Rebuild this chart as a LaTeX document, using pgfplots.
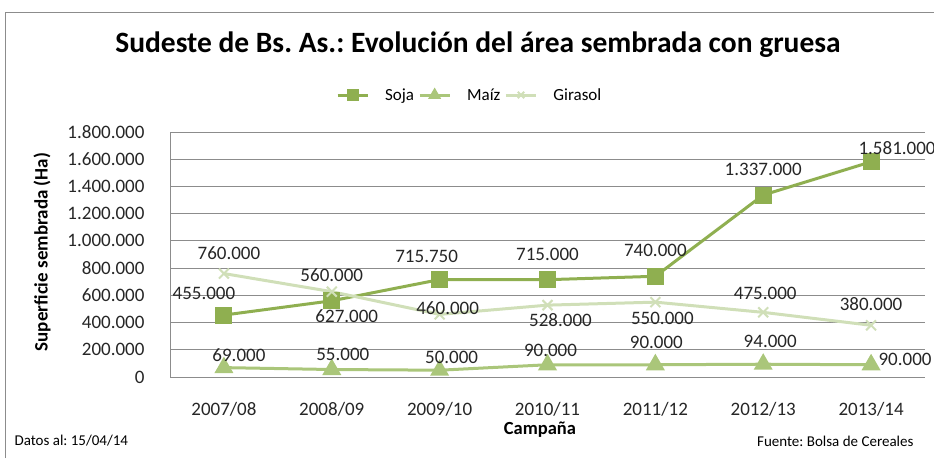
\documentclass[border=0pt]{standalone}
\usepackage{fontspec}
\setmainfont{Carlito}
\usepackage{pgfplots}
\usepackage{pgfplotstable}
\pgfplotsset{compat=1.18}
\frenchspacing
\definecolor{soja}{RGB}{143,175,80}
\definecolor{maiz}{RGB}{170,198,122}
\definecolor{girasol}{RGB}{208,223,184}
\definecolor{gridc}{RGB}{140,140,140}
\pgfplotstableread{
x y dx dy
0 455000 -20 22
1 560000 0 26
2 715750 -13 23
3 715000 0 25
4 740000 0 26
5 1337000 0 26
6 1581000 26 14
}\soja
\pgfplotstableread{
x y dx dy
0 69000 15 12
1 55000 11 15
2 50000 12 13
3 90000 3 14
4 90000 1 22
5 94000 7 23
6 90000 34 5
}\maiz
\pgfplotstableread{
x y dx dy
0 760000 5 20
1 627000 15 -24
2 460000 8 6
3 528000 13 -15
4 550000 7 -16
5 475000 2 19
6 380000 0 21
}\girasol
\begin{document}
\begin{tikzpicture}
\useasboundingbox (0pt,0pt) rectangle (934pt,-458pt);
\draw[gridc, line width=1pt] (5pt,-458pt) -- (5pt,-12pt) -- (934pt,-12pt);
\begin{axis}[
  at={(170pt,-377pt)}, anchor=south west,
  scale only axis, width=755pt, height=245pt,
  xmin=-0.5, xmax=6.5, ymin=0, ymax=1800000,
  xtick={0,...,6},
  xticklabels={2007/08,2008/09,2009/10,2010/11,2011/12,2012/13,2013/14},
  ytick={0,200000,...,1800000},
  scaled y ticks=false,
  /pgf/number format/.cd, fixed, precision=0, 1000 sep={.}, assume math mode=true,
  /pgfplots/.cd,
  ymajorgrids, major grid style={gridc, line width=0.8pt},
  axis line style={gridc, line width=0.8pt},
  axis x line*=bottom, axis y line*=left,
  major tick length=0pt,
  tick label style={font=\fontsize{19}{21}\selectfont, text=black!85},
  yticklabel style={xshift=-22pt},
  xticklabel style={yshift=-22pt},
  xlabel={Campaña}, ylabel={Superficie sembrada (Ha)},
  every axis x label/.style={at={(axis description cs:0.49,-0.216)}, anchor=center, font=\fontsize{18.5}{20}\selectfont\bfseries},
  every axis y label/.style={at={(axis description cs:-0.1695,0.51)}, anchor=center, rotate=90, font=\fontsize{19}{20}\selectfont\bfseries},
  legend style={at={(axis description cs:0.397,1.151)}, anchor=center, draw=none,
    font=\fontsize{17}{19}\selectfont, legend columns=3,
    /tikz/every even column/.style={column sep=2pt},
    /tikz/every odd column/.style={column sep=14pt}},
  legend image code/.code={\draw[mark repeat=2,mark phase=2,#1, mark size=4.5pt] plot coordinates {(0pt,0pt) (15pt,0pt) (30pt,0pt)};},
  visualization depends on={\thisrow{dx} \as \dx},
  visualization depends on={\thisrow{dy} \as \dy},
  nodes near coords,
  every node near coord/.style={anchor=center, xshift=\dx pt, yshift=\dy pt, font=\fontsize{19}{21}\selectfont, text=black!85},
  clip=false,
]
\addplot[soja, line width=3pt, mark=square*, mark size=7pt, mark options={solid}] table[x=x,y=y] {\soja};
\addlegendentry{Soja}
\addplot[maiz, line width=3pt, mark=triangle*, mark size=8pt, mark options={solid}] table[x=x,y=y] {\maiz};
\addlegendentry{Maíz}
\addplot[girasol, line width=3pt, mark=x, mark size=7pt, mark options={solid, line width=2pt}] table[x=x,y=y] {\girasol};
\addlegendentry{Girasol}
\end{axis}
\node[font=\fontsize{29.5}{32}\selectfont\bfseries] at (478pt,-45pt) {Sudeste de Bs. As.: Evolución del área sembrada con gruesa};
\node[font=\fontsize{15}{17}\selectfont, anchor=west] at (11pt,-441pt) {Datos al: 15/04/14};
\node[font=\fontsize{15}{17}\selectfont, anchor=east] at (917pt,-441pt) {Fuente: Bolsa de Cereales};
\end{tikzpicture}
\end{document}
